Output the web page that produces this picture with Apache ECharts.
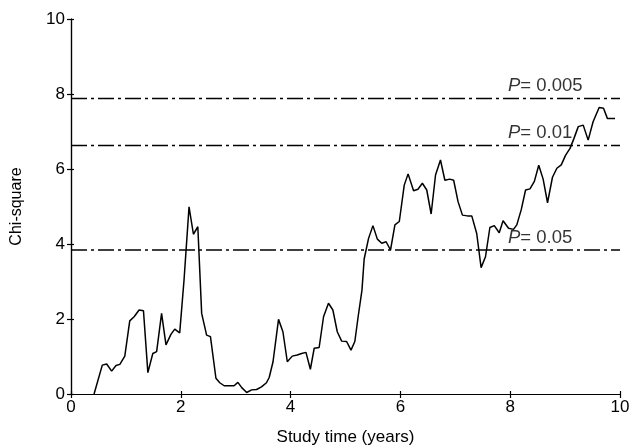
<!DOCTYPE html>
<html>
<head>
<meta charset="utf-8">
<script src="https://cdn.jsdelivr.net/npm/echarts@6/dist/echarts.min.js"></script>
<style>html,body{margin:0;padding:0;background:#fff}#c{width:630px;height:446px}</style>
</head>
<body>
<div id="c"></div>
<script>
const times = [0.42,0.57,0.65,0.74,0.82,0.89,0.98,1.07,1.15,1.24,1.32,1.40,1.49,1.56,1.65,1.73,1.82,1.89,1.98,2.06,2.15,2.23,2.31,2.38,2.47,2.54,2.64,2.71,2.79,2.88,2.97,3.04,3.11,3.20,3.29,3.38,3.47,3.56,3.61,3.68,3.78,3.86,3.94,4.03,4.12,4.20,4.28,4.36,4.43,4.52,4.60,4.69,4.77,4.85,4.93,5.02,5.10,5.17,5.23,5.30,5.34,5.42,5.50,5.58,5.66,5.74,5.82,5.90,5.98,6.07,6.14,6.24,6.32,6.40,6.48,6.56,6.64,6.73,6.81,6.90,6.97,7.05,7.13,7.22,7.30,7.39,7.47,7.55,7.63,7.71,7.80,7.87,7.97,8.06,8.12,8.20,8.28,8.36,8.44,8.52,8.60,8.68,8.77,8.85,8.93,9.01,9.09,9.16,9.24,9.33,9.42,9.51,9.62,9.70,9.77,9.91];
const chiSquare = [0,0.77,0.80,0.61,0.76,0.79,1.01,1.95,2.06,2.24,2.22,0.57,1.08,1.13,2.15,1.31,1.59,1.73,1.63,3.06,4.99,4.26,4.46,2.15,1.57,1.53,0.42,0.30,0.22,0.22,0.22,0.31,0.17,0.04,0.11,0.12,0.19,0.30,0.44,0.86,1.99,1.66,0.86,1.01,1.04,1.08,1.11,0.66,1.22,1.24,2.06,2.42,2.24,1.66,1.41,1.40,1.17,1.40,2.06,2.77,3.60,4.15,4.49,4.13,4.02,4.06,3.84,4.51,4.60,5.57,5.87,5.42,5.46,5.62,5.44,4.80,5.84,6.24,5.70,5.73,5.70,5.13,4.77,4.75,4.75,4.28,3.37,3.66,4.44,4.49,4.30,4.62,4.42,4.39,4.51,4.91,5.44,5.47,5.67,6.10,5.73,5.10,5.78,6.02,6.11,6.37,6.55,6.81,7.13,7.17,6.77,7.26,7.64,7.62,7.35,7.35];
const thresholdValues = [7.88, 6.63, 3.84];
const thresholdLabels = ['0.005', '0.01', '0.05'];
const labelX = 7.96;
const xTicks = [0,2,4,6,8,10];
const yTicks = [0,2,4,6,8,10];

const FONT = 'Liberation Sans';
const chart = echarts.init(document.getElementById('c'), null, {renderer: 'canvas'});

const lineData = times.map((t, i) => [t, chiSquare[i]]);
const thresholdSeries = thresholdValues.map(v => ({
  type: 'line',
  data: [[0, v], [10, v]],
  symbol: 'none',
  silent: true,
  lineStyle: {color: '#000', width: 1.5, type: [16, 4, 3, 4]},
  z: 2
}));

const axisCommon = {
  type: 'value', min: 0, max: 10, interval: 2,
  splitLine: {show: false},
  axisLine: {show: true, lineStyle: {color: '#000', width: 1.2}}
};

chart.setOption({
  animation: false,
  backgroundColor: '#fff',
  grid: {left: 71, right: 10, top: 19, bottom: 52, containLabel: false, outerBoundsMode: 'none'},
  xAxis: [
    Object.assign({}, axisCommon, {
      position: 'bottom',
      name: 'Study time (years)', nameLocation: 'middle', nameGap: 35,
      nameTextStyle: {fontFamily: FONT, fontSize: 17, color: '#000'},
      axisTick: {show: true, length: 4, lineStyle: {color: '#000', width: 1.2}},
      axisLabel: {fontFamily: FONT, fontSize: 17, color: '#000', margin: 5,
        formatter: v => xTicks.includes(v) ? String(v) : ''}
    }),
    Object.assign({}, axisCommon, {
      position: 'bottom',
      axisTick: {show: true, inside: true, length: 3, lineStyle: {color: '#000', width: 1.2}},
      axisLabel: {show: false}
    })
  ],
  yAxis: [
    Object.assign({}, axisCommon, {
      position: 'left',
      name: 'Chi-square', nameLocation: 'middle', nameGap: 46,
      nameTextStyle: {fontFamily: FONT, fontSize: 16, color: '#000'},
      axisTick: {show: true, length: 4, lineStyle: {color: '#000', width: 1.2}},
      axisLabel: {fontFamily: FONT, fontSize: 17, color: '#000', margin: 6,
        formatter: v => yTicks.includes(v) ? String(v) : ''}
    }),
    Object.assign({}, axisCommon, {
      position: 'left',
      axisTick: {show: true, inside: true, length: 3, lineStyle: {color: '#000', width: 1.2}},
      axisLabel: {show: false}
    })
  ],
  series: [
    {
      type: 'line',
      data: lineData,
      symbol: 'none',
      lineStyle: {color: '#000', width: 1.5},
      z: 3
    },
    ...thresholdSeries,
    {
      type: 'scatter',
      data: thresholdValues.map((v, i) => ({value: [labelX, v], name: thresholdLabels[i]})),
      symbolSize: 0,
      silent: true,
      label: {
        show: true,
        position: [0, -22],
        formatter: p => '{i|P}{n|= ' + p.name + '}',
        rich: {
          i: {fontFamily: FONT, fontSize: 18.5, fontStyle: 'italic', color: '#000'},
          n: {fontFamily: FONT, fontSize: 18.5, color: '#000'}
        }
      },
      z: 4
    }
  ]
});
</script>
</body>
</html>
